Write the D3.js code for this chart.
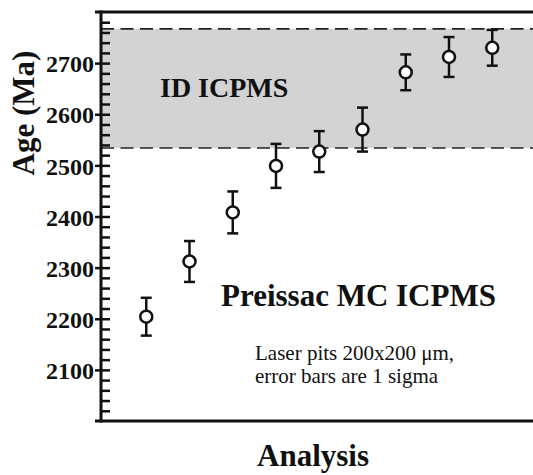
<!DOCTYPE html>
<html>
<head>
<meta charset="utf-8">
<script src="https://cdn.jsdelivr.net/npm/d3@7"></script>
<style>
  html, body { margin: 0; padding: 0; background: #fff; }
  svg { display: block; }
  text { font-family: "Liberation Serif", "Times New Roman", serif; fill: #111; }
</style>
</head>
<body>
<svg id="chart" width="533" height="475"></svg>
<script>
// ---- data ----
const analyses = [1, 2, 3, 4, 5, 6, 7, 8, 9];
const ages = [2204, 2312, 2408, 2499, 2527, 2570, 2682, 2712, 2730];
const errors = [37, 40, 41, 43, 40, 43, 35, 39, 35];
const idBand = [2534, 2767];
const yMajorTicks = [2100, 2200, 2300, 2400, 2500, 2600, 2700];
const yMinorTicks = d3.range(2020, 2800, 20);
const bandLabel = "ID ICPMS";
const mainLabel = "Preissac MC ICPMS";
const noteLines = ["Laser pits 200x200 \u03bcm,", "error bars are 1 sigma"];
const xTitle = "Analysis";
const yTitle = "Age (Ma)";

// ---- layout ----
const mLeft = 101, mTop = 12, mBottom = 421, mRight = 533;
const svg = d3.select("#chart");

const x = d3.scaleLinear().domain([0, 10]).range([103, 535.5]);
const y = d3.scaleLinear().domain([2000, 2800]).range([mBottom, mTop]);

// band
svg.append("rect")
  .attr("x", mLeft).attr("width", mRight - mLeft)
  .attr("y", y(idBand[1])).attr("height", y(idBand[0]) - y(idBand[1]))
  .attr("fill", "#d3d3d3");

svg.selectAll("line.dash").data(idBand).enter().append("line")
  .attr("class", "dash")
  .attr("x1", mLeft).attr("x2", mRight)
  .attr("y1", d => y(d)).attr("y2", d => y(d))
  .attr("stroke", "#222").attr("stroke-width", 1.6)
  .attr("stroke-dasharray", "13,6.5");

// frame lines
svg.append("line").attr("x1", 95).attr("x2", mRight).attr("y1", mTop).attr("y2", mTop)
  .attr("stroke", "#111").attr("stroke-width", 3);
svg.append("line").attr("x1", 95).attr("x2", mRight).attr("y1", mBottom).attr("y2", mBottom)
  .attr("stroke", "#111").attr("stroke-width", 3);

// y axis: major outward with labels
const gMaj = svg.append("g").attr("transform", `translate(${mLeft},0)`)
  .call(d3.axisLeft(y).tickValues(yMajorTicks).tickSize(6).tickPadding(1).tickFormat(d3.format("d")));
gMaj.select(".domain").remove();
gMaj.selectAll(".tick line").attr("stroke", "#111").attr("stroke-width", 2.5);
gMaj.selectAll(".tick text")
  .attr("font-family", "Liberation Serif")
  .attr("font-weight", "bold").attr("font-size", 24).attr("fill", "#111")
  .attr("dy", "0.36em");

// y axis: all ticks inward
const gIn = svg.append("g").attr("transform", `translate(${mLeft},0)`)
  .call(d3.axisRight(y).tickValues(yMinorTicks).tickSize(9).tickFormat(""));
gIn.select(".domain").remove();
gIn.selectAll(".tick line").attr("stroke", "#111").attr("stroke-width", 2.5);

svg.append("line").attr("x1", mLeft).attr("x2", mLeft).attr("y1", mTop - 1.5).attr("y2", mBottom + 1.5)
  .attr("stroke", "#111").attr("stroke-width", 3);

// error bars
const pts = analyses.map((a, i) => ({ a, age: ages[i], err: errors[i] }));
const eg = svg.append("g").attr("stroke", "#111").attr("stroke-width", 2.5);
eg.selectAll("line.v").data(pts).enter().append("line")
  .attr("x1", d => x(d.a)).attr("x2", d => x(d.a))
  .attr("y1", d => y(d.age - d.err)).attr("y2", d => y(d.age + d.err));
eg.selectAll("line.t").data(pts).enter().append("line")
  .attr("x1", d => x(d.a) - 5.5).attr("x2", d => x(d.a) + 5.5)
  .attr("y1", d => y(d.age + d.err)).attr("y2", d => y(d.age + d.err));
eg.selectAll("line.b").data(pts).enter().append("line")
  .attr("x1", d => x(d.a) - 5.5).attr("x2", d => x(d.a) + 5.5)
  .attr("y1", d => y(d.age - d.err)).attr("y2", d => y(d.age - d.err));

svg.selectAll("circle.pt").data(pts).enter().append("circle")
  .attr("cx", d => x(d.a)).attr("cy", d => y(d.age)).attr("r", 6)
  .attr("fill", "#fff").attr("stroke", "#111").attr("stroke-width", 2.5);

// texts
svg.append("text").attr("x", 160).attr("y", 97)
  .attr("font-weight", "bold").attr("font-size", 28).text(bandLabel);
svg.append("text").attr("x", 221).attr("y", 306)
  .attr("font-weight", "bold").attr("font-size", 31).text(mainLabel);
svg.selectAll("text.note").data(noteLines).enter().append("text")
  .attr("class", "note").attr("x", 255).attr("y", (d, i) => 360 + i * 23)
  .attr("font-size", 21).text(d => d);
svg.append("text").attr("x", 313).attr("y", 466).attr("text-anchor", "middle")
  .attr("font-weight", "bold").attr("font-size", 31).text(xTitle);
svg.append("text").attr("transform", "translate(34,113) rotate(-90)")
  .attr("text-anchor", "middle")
  .attr("font-weight", "bold").attr("font-size", 31).text(yTitle);
</script>
</body>
</html>
